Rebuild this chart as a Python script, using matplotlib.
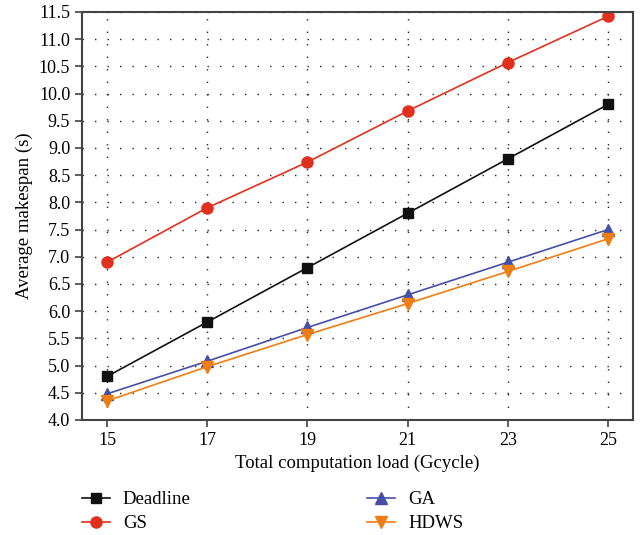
import numpy as np
import matplotlib
matplotlib.use('Agg')
import matplotlib.pyplot as plt

plt.rcParams['font.family'] = ['Liberation Serif', 'DejaVu Serif']

load = [15, 17, 19, 21, 23, 25]  # total computation load (Gcycle)
deadline = [4.8, 5.8, 6.8, 7.8, 8.8, 9.8]
gs = [6.9, 7.9, 8.74, 9.68, 10.57, 11.42]
ga = [4.48, 5.08, 5.7, 6.3, 6.9, 7.5]
hdws = [4.35, 4.98, 5.57, 6.14, 6.73, 7.33]
yticks = np.arange(4.0, 11.51, 0.5)

fig = plt.figure(figsize=(6.43, 5.35), dpi=100)
ax = fig.add_axes([0.1275, 0.215, 0.857, 0.7626])

h1, = ax.plot(load, deadline, color='#111111', lw=1.2, marker='s', ms=7, label='Deadline')
h2, = ax.plot(load, gs, color='#e0301e', lw=1.2, marker='o', ms=8, label='GS')
h3, = ax.plot(load, ga, color='#4450a8', lw=1.2, marker='^', ms=8, label='GA')
h4, = ax.plot(load, hdws, color='#f07d10', lw=1.2, marker='v', ms=8, label='HDWS')

ax.set_xlim(14.5, 25.5)
ax.set_ylim(4.0, 11.5)
ax.set_xticks(load)
ax.set_yticks(yticks)
ax.set_yticklabels(['%.1f' % v for v in yticks])
ax.grid(True, color='#222222', linestyle=(0, (1, 8)), linewidth=1.0)
ax.tick_params(direction='out', length=5, width=1.2, color='#444444', labelsize=13)
for s in ax.spines.values():
    s.set_color('#444444')
    s.set_linewidth(1.5)

ax.set_xlabel('Total computation load (Gcycle)', fontsize=13.5)
ax.set_ylabel('Average makespan (s)', fontsize=13.5)

# two legend columns placed side by side under the axes
leg_kw = dict(loc='upper left', frameon=False, fontsize=13.5, handlelength=1.5,
              handletextpad=0.7, labelspacing=0.36, borderpad=0, borderaxespad=0)
fig.legend(handles=[h1, h2], bbox_to_anchor=(0.127, 0.082), **leg_kw)
fig.legend(handles=[h3, h4], bbox_to_anchor=(0.571, 0.082), **leg_kw)

fig.savefig('out.png', dpi=100)
